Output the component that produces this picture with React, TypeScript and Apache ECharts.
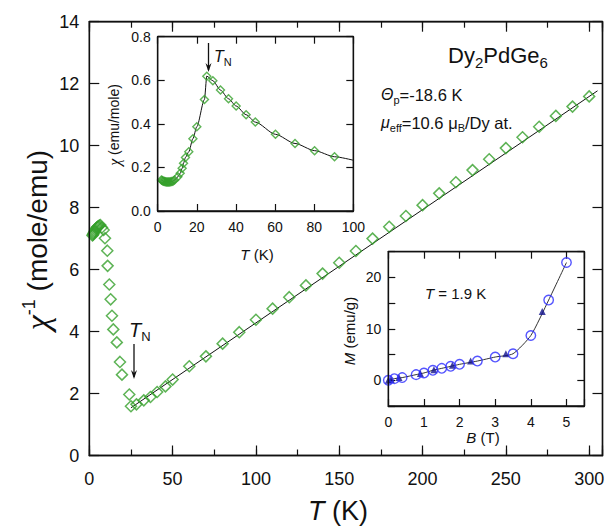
import React, { useEffect, useRef } from "react";
import * as echarts from "echarts";

// ---------- Main panel: inverse susceptibility vs T ----------
const mainT = [1.9, 2.2, 2.5, 2.8, 3.2, 3.6, 4.0, 4.5, 5.0, 5.5, 6.0, 6.6, 7.6, 8.6, 9.4,
  10.8, 11.0, 12.0, 12.8, 13.6, 14.4, 16.5, 18.4, 19.6,
  24.0, 25.0, 28.3, 32.7, 36.7, 40.7, 45.7,
  50, 60, 70, 80, 90, 100, 110, 120, 130, 140, 150, 160, 170, 180, 190, 200,
  210, 220, 230, 240, 250, 260, 270, 280, 290, 300];
const mainInvChi = [7.10, 7.13, 7.16, 7.20, 7.24, 7.28, 7.32, 7.36, 7.38, 7.40, 7.42, 7.44, 7.36, 7.28, 7.01,
  6.61, 6.12, 5.52, 5.04, 4.51, 4.07, 3.65, 3.02, 2.61,
  1.97, 1.59, 1.65, 1.78, 1.89, 2.05, 2.23,
  2.45, 2.88, 3.20, 3.61, 3.98, 4.38, 4.74, 5.11, 5.49, 5.87, 6.22, 6.60, 7.00, 7.38, 7.73, 8.08,
  8.46, 8.82, 9.21, 9.56, 9.92, 10.27, 10.61, 10.96, 11.26, 11.59];
const fitT = [25, 305];
const fitInvChi = [1.54, 11.77];

// ---------- Inset 1: chi vs T ----------
const insetT = [1.9, 2.3, 2.7, 3.1, 3.5, 4, 4.5, 5, 5.5, 6, 6.6, 7.2, 7.8, 8.6,
  10.3, 11.5, 12.5, 13.2, 14.2, 15.9, 18.0, 20.0, 23.9, 25.1,
  28.2, 32.1, 36.2, 40.1, 45.2, 49.9, 60.2, 70.2, 80.2, 90.4];
const insetChi = [0.142, 0.140, 0.138, 0.136, 0.135, 0.134, 0.133, 0.133, 0.133, 0.133, 0.134, 0.135, 0.137, 0.142,
  0.157, 0.173, 0.196, 0.219, 0.246, 0.272, 0.332, 0.387, 0.512, 0.619,
  0.598, 0.555, 0.515, 0.482, 0.442, 0.408, 0.352, 0.310, 0.277, 0.249];
const insetLineEndT = [100];
const insetLineEndChi = [0.233];

// ---------- Inset 2: M vs B at 1.9 K ----------
const upB = [0, 0.17, 0.39, 0.78, 1.0, 1.25, 1.5, 1.75, 2.0, 2.5, 3.0, 3.5, 4.0, 4.5, 5.0];
const upM = [0, 0.32, 0.52, 1.10, 1.42, 1.94, 2.32, 2.71, 3.10, 3.74, 4.52, 5.16, 8.71, 15.6, 22.9];
const downB = [0, 0.08, 0.3, 0.9, 1.28, 1.8, 2.31, 3.3, 4.32];
const downM = [0, 0.13, 0.52, 1.30, 2.06, 2.90, 3.74, 5.16, 13.35];

const zip = (a: number[], b: number[]) => a.map((v, i) => [v, b[i]]);

const SANS = "Liberation Sans";
const SERIF = "Liberation Serif";
const GREEN = "#36a02c";
const BLUE = "#2a2aff";
const NAVY = "#12128c";

function axis(o: any): any {
  const {
    grid, pos, min, max, interval, tickLen = 8, labels = false, fontSize = 18, margin = 10,
    formatter, lineShow = true,
  } = o;
  return {
    type: "value",
    gridIndex: grid,
    position: pos,
    min,
    max,
    interval,
    axisLine: { show: lineShow, onZero: false, lineStyle: { color: "#111", width: 1.3 } },
    axisTick: { show: true, inside: true, length: tickLen, lineStyle: { color: "#111", width: 1.2 } },
    axisLabel: labels
      ? { show: true, color: "#111", fontSize, fontFamily: SANS, margin, formatter, hideOverlap: false, showMinLabel: true, showMaxLabel: true }
      : { show: false },
    splitLine: { show: false },
  };
}

function txt(x: number, y: number, text: string, rich: any, opts: any = {}): any {
  return {
    type: "text",
    x,
    y,
    rotation: opts.rotation || 0,
    z: 100,
    style: {
      text,
      rich,
      fill: "#111",
      fontFamily: SANS,
      fontSize: opts.fontSize || 14,
      align: opts.align || "left",
      verticalAlign: opts.verticalAlign || "middle",
    },
  };
}

// main-size fragment aligned to top of line, subscript pushed below baseline by top padding
const big = (size: number, italic = false, family = SANS) => ({
  fontFamily: family, fontStyle: italic ? "italic" : "normal", fontSize: size, lineHeight: size, verticalAlign: "top",
});
const sub = (size: number, drop: number) => ({
  fontFamily: SANS, fontSize: size, lineHeight: size, verticalAlign: "top", padding: [drop, 0, 0, 0],
});

function arrow(x: number, y1: number, y2: number): any[] {
  return [
    { type: "line", z: 100, shape: { x1: x, y1, x2: x, y2: y2 - 2 }, style: { stroke: "#111", lineWidth: 1.3 } },
    { type: "polygon", z: 100, shape: { points: [[x - 3, y2 - 9], [x, y2], [x + 3, y2 - 9], [x, y2 - 6]] }, style: { fill: "#111" } },
  ];
}

export default function App() {
  const ref = useRef<HTMLDivElement>(null);
  useEffect(() => {
    if (!ref.current) return;
    const chart = echarts.init(ref.current, undefined, { renderer: "svg" });
    const fmt = (step: number, dec = 0) => (v: number) =>
      Math.abs(v / step - Math.round(v / step)) < 1e-6 ? v.toFixed(dec) : "";

    const option: any = {
      animation: false,
      backgroundColor: "#fff",
      grid: [
        { left: 89.3, top: 21.7, width: 513.2, height: 433.8, show: false, outerBoundsMode: "none", containLabel: false },
        { left: 157.7, top: 36.7, width: 195.6, height: 174.3, show: true, backgroundColor: "#fff", borderWidth: 0, outerBoundsMode: "none", containLabel: false },
        { left: 388.3, top: 251.7, width: 196, height: 154.3, show: true, backgroundColor: "#fff", borderWidth: 0, outerBoundsMode: "none", containLabel: false },
      ],
      xAxis: [
        axis({ grid: 0, pos: "bottom", min: 0, max: 308, interval: 50, tickLen: 10, labels: true, fontSize: 18, margin: 14, formatter: fmt(50) }),
        axis({ grid: 0, pos: "bottom", min: 0, max: 308, interval: 25, tickLen: 6, lineShow: false }),
        axis({ grid: 0, pos: "top", min: 0, max: 308, interval: 50, tickLen: 10 }),
        axis({ grid: 0, pos: "top", min: 0, max: 308, interval: 25, tickLen: 6, lineShow: false }),
        axis({ grid: 1, pos: "bottom", min: 0, max: 100, interval: 20, tickLen: 7, labels: true, fontSize: 14, margin: 9, formatter: fmt(20) }),
        axis({ grid: 1, pos: "top", min: 0, max: 100, interval: 20, tickLen: 7 }),
        axis({ grid: 2, pos: "bottom", min: 0, max: 5.5, interval: 1, tickLen: 7, labels: true, fontSize: 14, margin: 9, formatter: fmt(1) }),
        axis({ grid: 2, pos: "top", min: 0, max: 5.5, interval: 1, tickLen: 7 }),
      ],
      yAxis: [
        axis({ grid: 0, pos: "left", min: 0, max: 14, interval: 2, tickLen: 10, labels: true, fontSize: 18, margin: 10, formatter: fmt(2) }),
        axis({ grid: 0, pos: "right", min: 0, max: 14, interval: 2, tickLen: 10 }),
        axis({ grid: 1, pos: "left", min: 0, max: 0.8, interval: 0.2, tickLen: 7, labels: true, fontSize: 14, margin: 7, formatter: fmt(0.2, 1) }),
        axis({ grid: 1, pos: "right", min: 0, max: 0.8, interval: 0.2, tickLen: 7 }),
        axis({ grid: 2, pos: "left", min: -5, max: 25, interval: 5, tickLen: 7, labels: true, fontSize: 14, margin: 7, formatter: (v: number) => (v >= 0 && v % 10 === 0 ? String(v) : "") }),
        axis({ grid: 2, pos: "right", min: -5, max: 25, interval: 5, tickLen: 7 }),
      ],
      series: [
        {
          type: "line", xAxisIndex: 0, yAxisIndex: 0, data: zip(fitT, fitInvChi), showSymbol: false,
          lineStyle: { color: "#111", width: 1 }, z: 2, silent: true,
        },
        {
          type: "scatter", xAxisIndex: 0, yAxisIndex: 0, data: zip(mainT, mainInvChi), symbol: "diamond", symbolSize: 11,
          itemStyle: { color: "rgba(255,255,255,0)", borderColor: GREEN, borderWidth: 1.5 }, z: 3,
        },
        {
          type: "line", xAxisIndex: 4, yAxisIndex: 2,
          data: zip(insetT.concat(insetLineEndT), insetChi.concat(insetLineEndChi)),
          showSymbol: false, smooth: 0.25, smoothMonotone: "x", lineStyle: { color: "#111", width: 1 }, z: 2,
        },
        {
          type: "scatter", xAxisIndex: 4, yAxisIndex: 2, data: zip(insetT, insetChi), symbol: "diamond", symbolSize: 8,
          itemStyle: { color: "rgba(255,255,255,0)", borderColor: GREEN, borderWidth: 1.4 }, z: 3,
        },
        {
          type: "line", xAxisIndex: 6, yAxisIndex: 4, data: zip(upB, upM), showSymbol: false, smooth: 0.2,
          lineStyle: { color: "#333", width: 1 }, z: 2,
        },
        {
          type: "scatter", xAxisIndex: 6, yAxisIndex: 4, data: zip(downB, downM), symbol: "triangle", symbolSize: 7,
          itemStyle: { color: NAVY }, z: 3,
        },
        {
          type: "scatter", xAxisIndex: 6, yAxisIndex: 4, data: zip(upB, upM), symbol: "circle", symbolSize: 9.5,
          itemStyle: { color: "rgba(255,255,255,0)", borderColor: BLUE, borderWidth: 1.4 }, z: 4,
        },
      ],
      graphic: [
        // frames
        { type: "rect", z: 50, shape: { x: 89.3, y: 21.7, width: 513.2, height: 433.8 }, style: { fill: "none", stroke: "#111", lineWidth: 1.4 } },
        { type: "rect", z: 50, shape: { x: 157.7, y: 36.7, width: 195.6, height: 174.3 }, style: { fill: "none", stroke: "#111", lineWidth: 1.3 } },
        { type: "rect", z: 50, shape: { x: 388.3, y: 251.7, width: 196, height: 154.3 }, style: { fill: "none", stroke: "#111", lineWidth: 1.3 } },
        // main axis titles
        txt(37, 240, "{a|χ}{b|-1}{c| (mole/emu)}", {
          a: { fontFamily: SERIF, fontStyle: "italic", fontSize: 34 },
          b: { fontFamily: SANS, fontSize: 18, verticalAlign: "top" },
          c: { fontFamily: SANS, fontSize: 28 },
        }, { rotation: Math.PI / 2, align: "center" }),
        txt(338, 511, "{a|T}{c| (K)}", {
          a: { fontFamily: SANS, fontStyle: "italic", fontSize: 27 },
          c: { fontFamily: SANS, fontSize: 27 },
        }, { align: "center" }),
        // T_N main
        txt(129, 330, "{a|T}{b|N}", { a: big(20, true), b: sub(13, 10) }),
        ...arrow(134, 344, 379),
        // T_N inset
        txt(214, 56, "{a|T}{b|N}", { a: big(16, true), b: sub(11, 8) }),
        ...arrow(208.5, 43, 72),
        // inset 1 titles
        txt(114, 125, "{a|χ}{c| (emu/mole)}", {
          a: { fontFamily: SERIF, fontStyle: "italic", fontSize: 16 },
          c: { fontFamily: SANS, fontSize: 14 },
        }, { rotation: Math.PI / 2, align: "center" }),
        txt(257, 254, "{a|T}{c| (K)}", {
          a: { fontFamily: SANS, fontStyle: "italic", fontSize: 15 },
          c: { fontFamily: SANS, fontSize: 15 },
        }, { align: "center" }),
        // inset 2 titles
        txt(349, 331, "{a|M}{c| (emu/g)}", {
          a: { fontFamily: SANS, fontStyle: "italic", fontSize: 15 },
          c: { fontFamily: SANS, fontSize: 15 },
        }, { rotation: Math.PI / 2, align: "center" }),
        txt(483, 437, "{a|B}{c| (T)}", {
          a: { fontFamily: SANS, fontStyle: "italic", fontSize: 15 },
          c: { fontFamily: SANS, fontSize: 15 },
        }, { align: "center" }),
        txt(425, 293, "{a|T}{c| = 1.9 K}", {
          a: { fontFamily: SANS, fontStyle: "italic", fontSize: 15 },
          c: { fontFamily: SANS, fontSize: 15 },
        }),
        // compound and parameters
        txt(448, 55, "{c|Dy}{s|2}{c|PdGe}{s|6}", { c: big(22), s: sub(15, 11) }),
        txt(381, 95, "{a|Θ}{s|p}{c|=-18.6 K}", { a: big(16, true), s: sub(11, 8), c: big(16.5) }),
        txt(381, 123, "{a|μ}{s|eff}{c|=10.6 μ}{s|B}{c|/Dy at.}", { a: big(16, true), s: sub(11, 8), c: big(16.5) }),
      ],
    };
    chart.setOption(option);
    return () => chart.dispose();
  }, []);
  return <div ref={ref} style={{ position: "absolute", left: 0, top: 0, width: 607, height: 530 }} />;
}
